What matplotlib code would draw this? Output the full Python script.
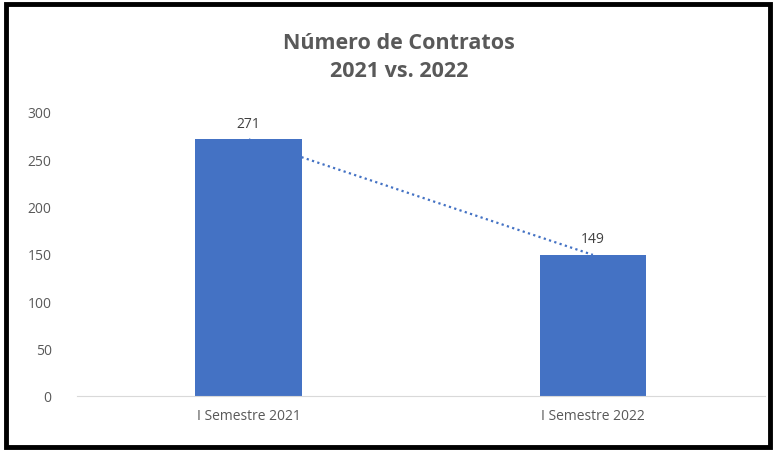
import matplotlib.pyplot as plt
from matplotlib.patches import Rectangle

categories = ["I Semestre 2021", "I Semestre 2022"]
contratos = [271, 149]
yticks = [0, 50, 100, 150, 200, 250, 300]

plt.rcParams['font.family'] = ['Open Sans', 'DejaVu Sans']

def main():
    fig = plt.figure(figsize=(7.75, 4.52), dpi=100)
    ax = fig.add_axes([0.099, 0.122, 0.888, 0.628])

    x = list(range(len(categories)))
    # trend line (behind bars)
    ax.plot(x, contratos, linestyle=(0, (1, 1.5)), color='#4472C4', linewidth=1.6, zorder=1)
    bars = ax.bar(x, contratos, width=0.31, color='#4472C4', zorder=2)
    for b, v in zip(bars, contratos):
        ax.text(b.get_x() + b.get_width() / 2, v + 9, str(v), ha='center', va='bottom',
                fontsize=10, color='#404040')

    ax.set_xlim(-0.5, 1.5)
    ax.set_ylim(0, 300)
    ax.set_yticks(yticks)
    ax.set_xticks(x)
    ax.set_xticklabels(categories)
    ax.tick_params(axis='both', length=0, labelsize=10, labelcolor='#595959')
    ax.tick_params(axis='y', pad=18)
    ax.tick_params(axis='x', pad=9)
    for s in ['top', 'right', 'left']:
        ax.spines[s].set_visible(False)
    ax.spines['bottom'].set_color('#d9d9d9')

    fig.text(0.515, 0.873, "Número de Contratos\n2021 vs. 2022", ha='center', va='center',
             fontsize=15.5, fontweight='bold', color='#595959', linespacing=1.45)

    fig.patches.append(Rectangle((0.008, 0.008), 0.985, 0.98, transform=fig.transFigure,
                                 fill=False, edgecolor='black', linewidth=3.5))
    fig.savefig('out.png', dpi=100)

if __name__ == "__main__":
    main()
